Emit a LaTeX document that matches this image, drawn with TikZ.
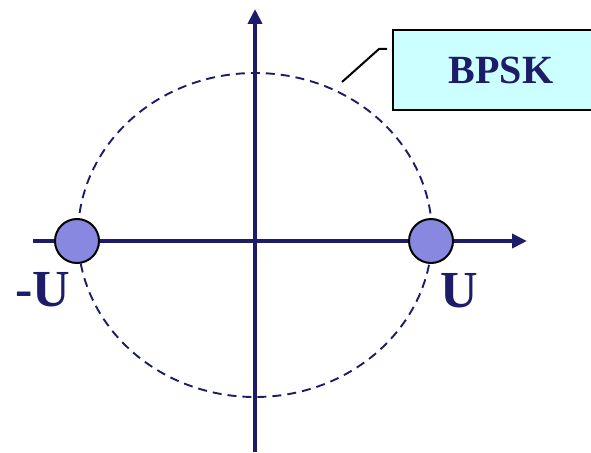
\documentclass[tikz,border=0pt]{standalone}
\usepackage{fontspec}
\setmainfont{Liberation Serif}
\usetikzlibrary{arrows.meta}
\definecolor{navy}{RGB}{28,28,104}
\definecolor{dotfill}{RGB}{136,136,224}
\definecolor{boxfill}{RGB}{204,255,255}
\tikzset{
  axis/.style={draw=navy, line width=4.5pt, -{Triangle[length=15pt,width=14pt]}},
  pointdot/.style={circle, draw=black, line width=2pt, fill=dotfill, minimum size=44pt, inner sep=0pt},
  biglabel/.style={text=navy, font=\bfseries\fontsize{52}{52}\selectfont, inner sep=0pt},
  labelbox/.style={draw=black, line width=2.5pt, fill=boxfill, minimum width=216pt, minimum height=80pt, inner sep=0pt, text=navy, font=\bfseries\fontsize{40}{40}\selectfont},
  circleline/.style={draw=navy, line width=1.9pt, dash pattern=on 9pt off 6pt},
  callout/.style={draw=black, line width=2pt}
}
\begin{document}
\begin{tikzpicture}[x=1pt,y=-1pt]
\useasboundingbox (0,0) rectangle (591,452);
\clip (0,0) rectangle (591,452);
\draw[circleline] (255,235) ellipse [x radius=177, y radius=162];
\coordinate (ybot) at (255,452);
\coordinate (ytop) at (255,9);
\coordinate (xleft) at (33,241);
\coordinate (xright) at (527,241);
\draw[axis] (ybot) -- (ytop);
\draw[axis] (xleft) -- (xright);
\node[pointdot] (pneg) at (77,241) {};
\node[pointdot] (ppos) at (431,241) {};
\node[biglabel] (lneg) at (43,290) {-U};
\node[biglabel] (lpos) at (459,291) {U};
\node[labelbox] (bpsk) at (501,70) {BPSK};
\coordinate (c1) at (342,82);
\coordinate (c2) at (379,49);
\coordinate (c3) at (387,49);
\draw[callout] (c1) -- (c2) -- (c3);
\end{tikzpicture}
\end{document}
